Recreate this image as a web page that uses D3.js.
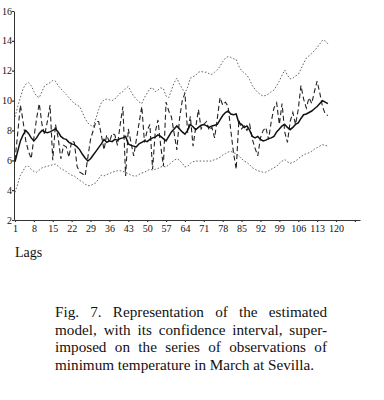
<!DOCTYPE html>
<html>
<head>
<meta charset="utf-8">
<script src="https://cdn.jsdelivr.net/npm/d3@7"></script>
<style>
  body { margin: 0; background: #fff; }
  #chart { position: absolute; left: 0; top: 0; }
  .tick text { font-family: "Liberation Serif", "Times New Roman", Times, serif; font-size: 10px; fill: #111; }
  #caption {
    position: absolute; left: 55px; top: 303px; width: 272px;
    font-family: "Liberation Serif", "Times New Roman", Times, serif;
    font-size: 15.2px; line-height: 17.6px; color: #111;
  }
  #caption span { display: block; white-space: nowrap; text-align: justify; text-align-last: justify; }
  #caption span.last { text-align-last: left; }
</style>
</head>
<body>
<div id="chart"></div>
<div id="caption"></div>
<script>
// lags 1..117
const observed = [6.0, 7.8, 9.7, 8.6, 7.3, 6.6, 6.1, 7.5, 8.8, 9.8,
  8.4, 7.7, 8.6, 9.7, 6.0, 8.4, 7.5, 6.1, 7.0, 6.9,
  6.2, 7.3, 7.2, 5.6, 5.2, 5.1, 4.95, 6.2, 7.4, 8.0,
  8.6, 8.6, 7.7, 6.7, 7.7, 7.2, 7.8, 7.7, 7.0, 8.4,
  9.6, 4.95, 8.1, 7.2, 6.3, 7.4, 8.5, 9.6, 7.2, 8.0,
  8.4, 5.4, 7.9, 8.7, 7.0, 5.6, 9.9, 9.3, 8.9, 7.8,
  6.7, 8.8, 10.0, 10.5, 7.85, 8.95, 6.95, 8.2, 9.4, 8.1,
  8.4, 8.6, 8.0, 8.2, 7.5, 8.8, 10.2, 9.7, 9.9, 9.6,
  8.0, 6.5, 5.4, 8.7, 8.1, 8.3, 8.0, 8.4, 7.4, 6.8,
  6.3, 7.5, 8.0, 8.2, 7.4, 8.6, 9.5, 9.85, 8.4, 9.8,
  7.9, 7.2, 8.6, 9.2, 8.4, 9.4, 11.0, 10.1, 9.5, 10.2,
  9.8, 10.6, 11.3, 10.5, 9.6, 9.1, 9.0];

const model = [5.9, 6.6, 7.3, 7.7, 8.0, 7.8, 7.5, 7.3, 7.5, 7.8,
  8.0, 7.9, 7.85, 7.9, 8.0, 8.1, 7.9, 7.6, 7.45, 7.4,
  7.2, 7.1, 7.05, 6.9, 6.7, 6.4, 6.15, 5.95, 6.1, 6.35,
  6.6, 6.85, 7.1, 7.4, 7.2, 7.3, 7.25, 7.4, 7.35, 7.45,
  7.5, 7.6, 7.1, 7.0, 6.95, 6.9, 7.1, 7.2, 7.3, 7.25,
  7.4, 7.5, 7.55, 7.7, 7.6, 7.45, 7.3, 7.6, 7.9, 8.1,
  8.3, 8.1, 7.9, 7.75, 8.0, 8.4, 8.25, 8.05, 8.2, 8.35,
  8.4, 8.3, 8.2, 8.3, 8.35, 8.4, 8.7, 9.0, 9.2, 9.3,
  9.1, 9.05, 9.1, 8.5, 8.4, 8.2, 8.3, 8.0, 7.6, 7.5,
  7.6, 7.4, 7.3, 7.35, 7.45, 7.5, 7.6, 7.9, 8.1, 8.3,
  8.4, 8.2, 8.05, 8.2, 8.4, 8.5, 8.8, 9.05, 9.1, 9.2,
  9.3, 9.45, 9.6, 9.8, 10.0, 9.9, 9.8];

const upper = [8.9, 9.6, 10.2, 10.8, 11.1, 11.2, 11.0, 10.6, 10.3, 10.2,
  10.6, 11.0, 11.1, 11.2, 11.35, 11.3, 11.0, 10.8, 10.6, 10.4,
  10.2, 10.0, 9.8, 9.7, 9.6, 9.2, 8.8, 8.5, 8.35, 8.25,
  8.8, 9.4, 9.85, 10.05, 10.1, 10.05, 10.0, 10.1, 10.3, 10.5,
  10.6, 10.8, 10.95, 10.6, 10.3, 10.1, 9.9, 9.8, 10.2, 10.5,
  10.8, 10.85, 10.6, 10.7, 10.85, 10.8, 10.3, 10.2, 10.7, 11.2,
  11.5, 11.1, 10.8, 10.5, 10.9, 11.5, 11.6, 11.7, 11.9, 11.95,
  11.9, 11.9, 11.8, 11.75, 11.9, 12.05, 12.3, 12.6, 12.85, 12.95,
  12.9, 12.8, 12.75, 12.3, 12.0, 11.85, 11.7, 11.4, 11.0, 10.75,
  10.55, 10.4, 10.3, 10.35, 10.45, 10.6, 10.7, 11.0, 11.3, 11.7,
  12.05, 11.7, 11.45, 11.5, 11.65, 11.75, 12.1, 12.5, 12.85, 13.0,
  13.15, 13.35, 13.55, 13.8, 14.05, 14.0, 13.8];

const lower = [3.85, 4.4, 5.0, 5.3, 5.6, 5.6, 5.4, 5.25, 5.2, 5.35,
  5.5, 5.55, 5.6, 5.65, 5.7, 5.75, 5.6, 5.45, 5.35, 5.25,
  5.1, 5.0, 4.95, 4.8, 4.65, 4.55, 4.4, 4.3, 4.3, 4.4,
  4.5, 4.75, 5.0, 4.95, 5.05, 5.1, 5.2, 5.25, 5.3, 5.3,
  5.25, 5.2, 5.1, 5.0, 4.95, 4.95, 5.05, 5.15, 5.2, 5.3,
  5.4, 5.35, 5.4, 5.45, 5.55, 5.6, 5.55, 5.7, 5.85, 6.0,
  6.1, 6.0, 5.8, 5.55, 5.6, 5.8, 5.9, 5.95, 5.95, 5.95,
  5.95, 5.95, 5.95, 5.95, 6.05, 6.1, 6.2, 6.35, 6.45, 6.55,
  6.6, 6.5, 6.45, 6.3, 6.1, 5.95, 5.85, 5.7, 5.5, 5.4,
  5.3, 5.25, 5.2, 5.2, 5.3, 5.4, 5.5, 5.6, 5.8, 5.95,
  6.05, 5.9, 5.8, 5.85, 5.95, 6.1, 6.25, 6.35, 6.45, 6.5,
  6.6, 6.75, 6.85, 6.95, 7.05, 7.0, 6.95];

const xTicks = [1, 8, 15, 22, 29, 36, 43, 50, 57, 64, 71, 78, 85, 92, 99, 106, 113, 120, 127];
const yTicks = [2, 4, 6, 8, 10, 12, 14, 16];
const xLabel = "Lags";
const captionLines = [
  "Fig. 7. Representation of the estimated",
  "model, with its confidence interval, super-",
  "imposed on the series of observations of",
  "minimum temperature in March at Sevilla."
];

const serif = "'Liberation Serif', 'Times New Roman', Times, serif";
const width = 384;

const svg = d3.select("#chart")
  .append("svg")
  .attr("width", width)
  .attr("height", 290);

const x = d3.scaleLinear().domain([1, 120]).range([15, 336]);
const y = d3.scaleLinear().domain([2, 16]).range([220, 11]);

// axis line runs a bit past the last tick
const xAxisScale = x.copy().domain([x.invert(14), x.invert(360)]).range([14, 360]);

const xAxis = d3.axisBottom(xAxisScale)
  .tickValues(xTicks)
  .tickFormat((d) => (d > 120 ? "" : d))
  .tickSizeInner(2)
  .tickSizeOuter(0)
  .tickPadding(3);

const yAxis = d3.axisLeft(y)
  .tickValues(yTicks)
  .tickSizeInner(2)
  .tickSizeOuter(0)
  .tickPadding(0);

svg.append("g")
  .attr("id", "x-axis")
  .attr("transform", `translate(0, ${y(2)})`)
  .call(xAxis);

svg.append("g")
  .attr("id", "y-axis")
  .attr("transform", "translate(14, 0)")
  .call(yAxis);

svg.selectAll(".domain").attr("stroke", "#333").attr("stroke-width", 1);
svg.selectAll(".tick line").attr("stroke", "#333").attr("stroke-width", 1.2);
svg.selectAll(".tick text").attr("font-family", serif);
svg.select("#y-axis").selectAll(".tick text").attr("dy", "0.3em");

const lags = observed.map((d, i) => i + 1);

const line = d3.line()
  .x((d, i) => x(lags[i]))
  .y((d) => y(d));

svg.append("path")
  .datum(upper)
  .attr("fill", "none")
  .attr("stroke", "#666")
  .attr("stroke-width", 1)
  .attr("stroke-dasharray", "1.6,1.8")
  .attr("d", line);

svg.append("path")
  .datum(lower)
  .attr("fill", "none")
  .attr("stroke", "#666")
  .attr("stroke-width", 1)
  .attr("stroke-dasharray", "1.6,1.8")
  .attr("d", line);

svg.append("path")
  .datum(observed)
  .attr("fill", "none")
  .attr("stroke", "#222")
  .attr("stroke-width", 1.1)
  .attr("stroke-dasharray", "5,3")
  .attr("d", line);

svg.append("path")
  .datum(model)
  .attr("fill", "none")
  .attr("stroke", "#111")
  .attr("stroke-width", 1.5)
  .attr("d", line);

svg.append("text")
  .attr("x", 15)
  .attr("y", 257)
  .attr("font-family", serif)
  .attr("font-size", 14)
  .attr("fill", "#111")
  .text(xLabel);

d3.select("#caption")
  .selectAll("span")
  .data(captionLines)
  .enter()
  .append("span")
  .attr("class", (d, i) => (i === captionLines.length - 1 ? "last" : null))
  .text((d) => d);
</script>
</body>
</html>
